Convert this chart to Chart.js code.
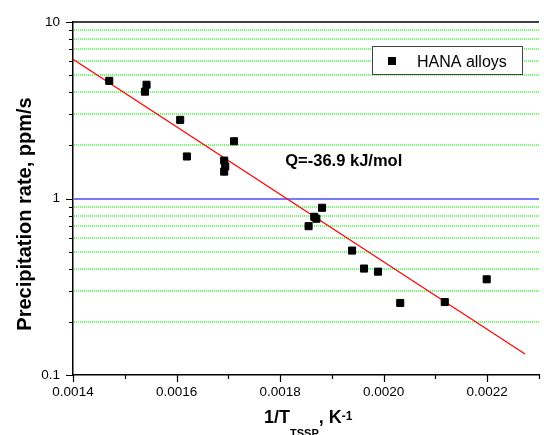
<!DOCTYPE html>
<html>
<head>
<meta charset="utf-8">
<script src="https://cdn.jsdelivr.net/npm/chart.js@4.4.0/dist/chart.umd.min.js"></script>
<style>
html, body { margin: 0; padding: 0; background: #fff; overflow: hidden; }
#wrap { width: 544px; height: 435px; overflow: hidden; }
</style>
</head>
<body>
<div id="wrap"><canvas id="chart" width="548" height="435"></canvas></div>
<script>
// HANA alloys, 1/T (K^-1) vs precipitation rate (ppm/s)
const invT = [0.00147, 0.001539, 0.001542, 0.001607, 0.00162, 0.001711, 0.001692, 0.001694, 0.001692,
              0.001881, 0.001866, 0.00187, 0.001855, 0.001939, 0.001962, 0.001989, 0.002032, 0.002118, 0.002199];
const rate = [4.64, 4.03, 4.41, 2.79, 1.73, 2.11, 1.64, 1.52, 1.42,
              0.886, 0.788, 0.768, 0.697, 0.507, 0.401, 0.385, 0.256, 0.259, 0.3485];

// Arrhenius fit line end points
const fitX = [0.0014, 0.002273];
const fitY = [6.15, 0.1315];

const xTicks = [0.0014, 0.0015, 0.0016, 0.0017, 0.0018, 0.0019, 0.0020, 0.0021, 0.0022, 0.0023];
const xLabels = ['0.0014', '', '0.0016', '', '0.0018', '', '0.0020', '', '0.0022', ''];
const yTicks = [0.1, 0.2, 0.3, 0.4, 0.5, 0.6, 0.7, 0.8, 0.9, 1, 2, 3, 4, 5, 6, 7, 8, 9, 10];
const yLabels = ['0.1', '', '', '', '', '', '', '', '', '1', '', '', '', '', '', '', '', '', '10'];

const qText = 'Q=-36.9 kJ/mol';
const qAt = [0.00181, 1.53];

const FONT = 'Arial, "Liberation Sans", sans-serif';

// horizontal grid: dotted green on minor ticks, solid blue at 1
const gridLines = {
    id: 'gridLines',
    beforeDatasetsDraw(chart) {
        const { ctx, chartArea: a, scales: { y } } = chart;
        ctx.save();
        y.ticks.forEach(t => {
            if (t.value === 0.1 || t.value === 10) return;
            const py = Math.round(y.getPixelForValue(t.value));
            ctx.beginPath();
            if (t.value === 1) {
                ctx.setLineDash([]);
                ctx.strokeStyle = '#4848ff';
                ctx.lineWidth = 1.5;
            } else {
                ctx.setLineDash([1, 1]);
                ctx.strokeStyle = '#00ff00';
                ctx.lineWidth = 1.2;
            }
            ctx.moveTo(a.left + 1, py);
            ctx.lineTo(a.right, py);
            ctx.stroke();
        });
        ctx.restore();
    }
};

const extras = {
    id: 'extras',
    afterDraw(chart) {
        const { ctx, chartArea: a, scales: { x, y } } = chart;
        ctx.save();
        ctx.strokeStyle = '#000';

        // top frame line
        ctx.lineWidth = 1.5;
        ctx.beginPath();
        ctx.moveTo(a.left - 0.75, a.top);
        ctx.lineTo(a.right, a.top);
        ctx.stroke();

        // outward tick marks, long for labelled ticks
        ctx.lineWidth = 1.2;
        ctx.beginPath();
        x.ticks.forEach((t, i) => {
            const px = Math.round(x.getPixelForValue(t.value)) + 0.5;
            const len = xLabels[i] ? 7 : 4;
            ctx.moveTo(px, a.bottom);
            ctx.lineTo(px, a.bottom + len);
        });
        y.ticks.forEach((t, i) => {
            const py = Math.round(y.getPixelForValue(t.value)) + 0.5;
            const len = yLabels[i] ? 7 : 4;
            ctx.moveTo(a.left, py);
            ctx.lineTo(a.left - len, py);
        });
        ctx.stroke();

        ctx.fillStyle = '#000';

        // Q annotation
        ctx.font = 'bold 16.5px ' + FONT;
        ctx.textAlign = 'left';
        ctx.textBaseline = 'alphabetic';
        ctx.fillText(qText, x.getPixelForValue(qAt[0]), y.getPixelForValue(qAt[1]));

        // legend box
        ctx.fillStyle = '#fff';
        ctx.fillRect(372, 46, 150, 28);
        ctx.strokeStyle = '#444';
        ctx.lineWidth = 1;
        ctx.strokeRect(372.5, 46.5, 150, 28);
        ctx.fillStyle = '#000';
        ctx.fillRect(388, 57, 8, 8);
        ctx.font = '16px ' + FONT;
        ctx.fillText(chart.data.datasets[0].label, 417, 66.5);

        // y title
        ctx.save();
        ctx.translate(30.5, 214);
        ctx.rotate(-Math.PI / 2);
        ctx.font = 'bold 20px ' + FONT;
        ctx.textAlign = 'center';
        ctx.fillText('Precipitation rate, ppm/s', 0, 0);
        ctx.restore();

        // x title with subscript and superscript
        let cx = 264;
        const parts = [
            ['1/T', 'bold 18px ', 423],
            ['TSSP', 'bold 11px ', 436.5],
            [', K', 'bold 18px ', 423],
            ['-1', 'bold 12px ', 419.5]
        ];
        parts.forEach(([txt, f, base]) => {
            ctx.font = f + FONT;
            ctx.fillText(txt, cx, base);
            cx += ctx.measureText(txt).width;
        });

        ctx.restore();
    }
};

new Chart(document.getElementById('chart').getContext('2d'), {
    type: 'scatter',
    data: {
        datasets: [{
            label: 'HANA alloys',
            data: invT.map((v, i) => ({ x: v, y: rate[i] })),
            pointStyle: 'rect',
            pointRadius: 5,
            pointBorderWidth: 1,
            backgroundColor: '#000',
            borderColor: '#000'
        }, {
            type: 'line',
            label: 'fit',
            data: fitX.map((v, i) => ({ x: v, y: fitY[i] })),
            borderColor: '#ff0000',
            borderWidth: 1.2,
            pointRadius: 0,
            fill: false
        }]
    },
    options: {
        responsive: false,
        animation: false,
        devicePixelRatio: 1,
        layout: { padding: { top: 22, right: 1, left: 0, bottom: 0 } },
        plugins: { legend: { display: false }, tooltip: { enabled: false } },
        scales: {
            x: {
                type: 'linear',
                min: 0.0014,
                max: 0.0023,
                afterBuildTicks: s => { s.ticks = xTicks.map(v => ({ value: v })); },
                afterFit: s => { s.height = 60; },
                ticks: {
                    autoSkip: false,
                    maxRotation: 0,
                    padding: 9,
                    color: '#000',
                    font: { family: FONT, size: 13.5 },
                    callback: (v, i) => xLabels[i]
                },
                grid: { drawOnChartArea: false, drawTicks: false },
                border: { color: '#000', width: 1.5 }
            },
            y: {
                type: 'logarithmic',
                min: 0.1,
                max: 10,
                afterBuildTicks: s => { s.ticks = yTicks.map(v => ({ value: v, major: false })); },
                afterFit: s => { s.width = 73; },
                ticks: {
                    autoSkip: false,
                    padding: 13,
                    color: '#000',
                    font: { family: FONT, size: 13.5 },
                    callback: (v, i) => yLabels[i]
                },
                grid: { drawOnChartArea: false, drawTicks: false },
                border: { color: '#000', width: 1.5 }
            }
        }
    },
    plugins: [gridLines, extras]
});
</script>
</body>
</html>
